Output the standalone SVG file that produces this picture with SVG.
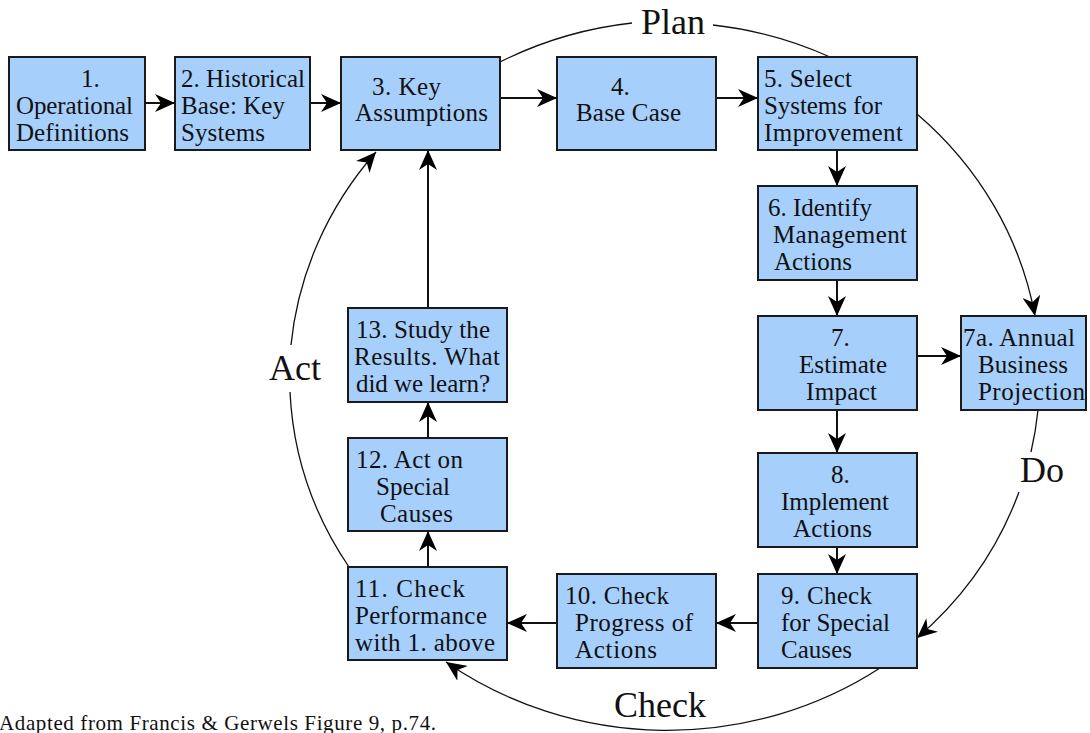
<svg xmlns="http://www.w3.org/2000/svg" width="1090" height="733" viewBox="0 0 1090 733">
<style>
.box{fill:#a6cffc;stroke:#1a1a1a;stroke-width:2}
.t{font-family:"Liberation Serif","Times New Roman",serif;font-size:25px;fill:#111}
.lbl{font-family:"Liberation Serif","Times New Roman",serif;font-size:36px;fill:#111}
.ln{fill:none;stroke:#111;stroke-width:2}
.arc{fill:none;stroke:#111;stroke-width:1.3}
</style>
<defs>
<marker id="ah" markerUnits="userSpaceOnUse" viewBox="0 0 20 18" refX="20" refY="9" markerWidth="20" markerHeight="18" orient="auto">
<path d="M0,0 L20,9 L0,18 L6,9 z" fill="#000"/>
</marker>
</defs>
<rect width="1090" height="733" fill="#fff"/>

<g id="connectors">
<line class="ln" x1="145" y1="103" x2="175" y2="103" marker-end="url(#ah)"/>
<line class="ln" x1="310" y1="103" x2="341" y2="103" marker-end="url(#ah)"/>
<line class="ln" x1="500" y1="98" x2="557" y2="98" marker-end="url(#ah)"/>
<line class="ln" x1="716" y1="98" x2="758" y2="98" marker-end="url(#ah)"/>
<line class="ln" x1="837" y1="150" x2="837" y2="186" marker-end="url(#ah)"/>
<line class="ln" x1="837" y1="280" x2="837" y2="316" marker-end="url(#ah)"/>
<line class="ln" x1="917" y1="356" x2="961" y2="356" marker-end="url(#ah)"/>
<line class="ln" x1="837" y1="410" x2="837" y2="453" marker-end="url(#ah)"/>
<line class="ln" x1="837" y1="547" x2="837" y2="574" marker-end="url(#ah)"/>
<line class="ln" x1="758" y1="623" x2="716" y2="623" marker-end="url(#ah)"/>
<line class="ln" x1="557" y1="623" x2="507" y2="623" marker-end="url(#ah)"/>
<line class="ln" x1="428" y1="567" x2="428" y2="531" marker-end="url(#ah)"/>
<line class="ln" x1="428" y1="438" x2="428" y2="402" marker-end="url(#ah)"/>
<line class="ln" x1="428" y1="308" x2="428" y2="150" marker-end="url(#ah)"/>
<path class="arc" d="M500,62 A375,354 0 0 1 632,23"/>
<path class="arc" d="M713,25 A375,354 0 0 1 830,57"/>
<path class="arc" d="M917,114 A375,354 0 0 1 1035,316" marker-end="url(#ah)"/>
<path class="arc" d="M1038,410 A375,354 0 0 1 1031,452"/>
<path class="arc" d="M1019,492 A375,354 0 0 1 917,638" marker-end="url(#ah)"/>
<path class="arc" d="M880,668 A375,354 0 0 1 446,662" marker-end="url(#ah)"/>
<path class="arc" d="M349,567 A375,354 0 0 1 290,392"/>
<path class="arc" d="M291,345 A375,354 0 0 1 376,152" marker-end="url(#ah)"/>
</g>

<g id="n1"><rect class="box" x="9" y="57" width="136" height="93"/>
<text class="t" x="81" y="87">1.</text>
<text class="t" x="16" y="114" textLength="117">Operational</text>
<text class="t" x="16" y="141" textLength="113">Definitions</text></g>

<g id="n2"><rect class="box" x="175" y="57" width="135" height="93"/>
<text class="t" x="181" y="87" textLength="124">2. Historical</text>
<text class="t" x="181" y="114" textLength="104">Base: Key</text>
<text class="t" x="181" y="141" textLength="84">Systems</text></g>

<g id="n3"><rect class="box" x="341" y="57" width="159" height="93"/>
<text class="t" x="372" y="95" textLength="69">3.  Key</text>
<text class="t" x="355" y="121" textLength="133">Assumptions</text></g>

<g id="n4"><rect class="box" x="557" y="57" width="159" height="93"/>
<text class="t" x="611" y="95">4.</text>
<text class="t" x="576" y="121" textLength="105">Base Case</text></g>

<g id="n5"><rect class="box" x="758" y="57" width="159" height="93"/>
<text class="t" x="764" y="87" textLength="88">5. Select</text>
<text class="t" x="764" y="114" textLength="118">Systems for</text>
<text class="t" x="764" y="141" textLength="139">Improvement</text></g>

<g id="n6"><rect class="box" x="758" y="186" width="159" height="94"/>
<text class="t" x="768" y="216" textLength="104">6. Identify</text>
<text class="t" x="773" y="243" textLength="134">Management</text>
<text class="t" x="774" y="270" textLength="78">Actions</text></g>

<g id="n7"><rect class="box" x="758" y="316" width="159" height="94"/>
<text class="t" x="831" y="346">7.</text>
<text class="t" x="799" y="373" textLength="88">Estimate</text>
<text class="t" x="806" y="400" textLength="71">Impact</text></g>

<g id="n7a"><rect class="box" x="961" y="316" width="125" height="94"/>
<text class="t" x="963" y="346" textLength="112">7a. Annual</text>
<text class="t" x="978" y="373" textLength="90">Business</text>
<text class="t" x="978" y="400" textLength="107">Projection</text></g>

<g id="n8"><rect class="box" x="758" y="453" width="159" height="94"/>
<text class="t" x="831" y="483">8.</text>
<text class="t" x="781" y="510" textLength="108">Implement</text>
<text class="t" x="793" y="537" textLength="79">Actions</text></g>

<g id="n9"><rect class="box" x="758" y="574" width="159" height="94"/>
<text class="t" x="781" y="604" textLength="91">9. Check</text>
<text class="t" x="781" y="631" textLength="109">for Special</text>
<text class="t" x="781" y="658" textLength="71">Causes</text></g>

<g id="n10"><rect class="box" x="557" y="574" width="159" height="94"/>
<text class="t" x="565" y="604" textLength="104">10. Check</text>
<text class="t" x="575" y="631" textLength="118">Progress of</text>
<text class="t" x="575" y="658" textLength="82">Actions</text></g>

<g id="n11"><rect class="box" x="348" y="567" width="159" height="93"/>
<text class="t" x="355" y="597" textLength="110">11.  Check</text>
<text class="t" x="355" y="624" textLength="132">Performance</text>
<text class="t" x="355" y="651" textLength="140">with 1. above</text></g>

<g id="n12"><rect class="box" x="348" y="438" width="159" height="93"/>
<text class="t" x="356" y="468" textLength="107">12. Act on</text>
<text class="t" x="376" y="495" textLength="74">Special</text>
<text class="t" x="380" y="522" textLength="73">Causes</text></g>

<g id="n13"><rect class="box" x="348" y="308" width="159" height="94"/>
<text class="t" x="356" y="338" textLength="134">13. Study the</text>
<text class="t" x="354" y="365" textLength="146">Results. What</text>
<text class="t" x="356" y="392" textLength="134">did we learn?</text></g>

<g id="labels">
<text class="lbl" x="641" y="34">Plan</text>
<text class="lbl" x="269" y="380">Act</text>
<text class="lbl" x="1020" y="482">Do</text>
<text class="lbl" x="614" y="717">Check</text>
<text x="-1" y="730" font-family="Liberation Serif, serif" font-size="21" fill="#111" textLength="437">Adapted from Francis &amp; Gerwels Figure 9, p.74.</text>
</g>
</svg>
